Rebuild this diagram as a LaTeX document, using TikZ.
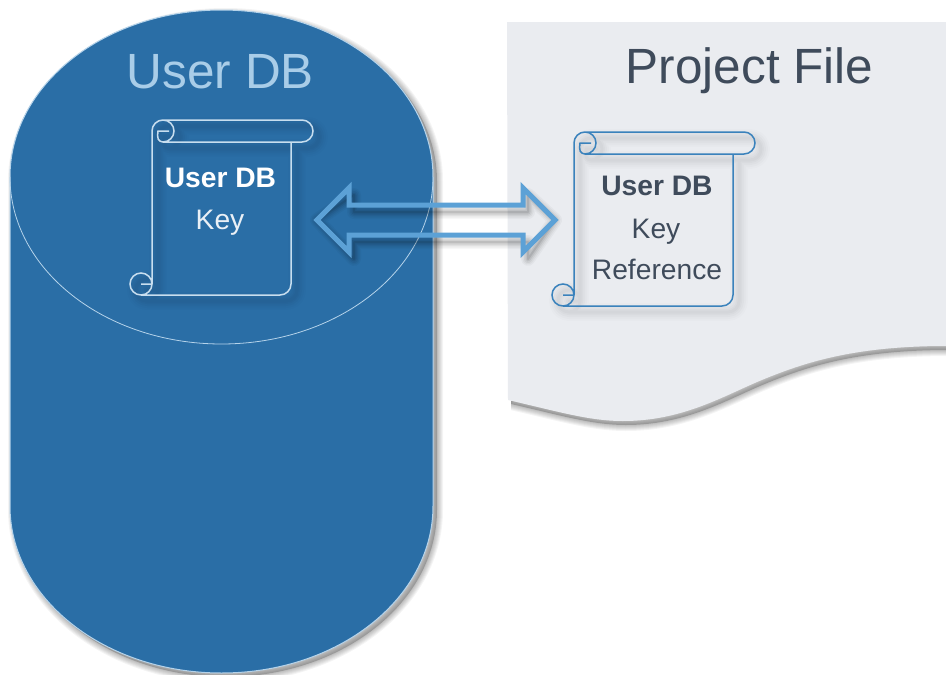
\documentclass[tikz,border=0pt]{standalone}
\usepackage{fontspec}
\setmainfont{Liberation Sans}
\definecolor{cylfill}{HTML}{2A6EA6}
\definecolor{cylline}{HTML}{B5D3EA}
\definecolor{titleblue}{HTML}{A9CDE8}
\definecolor{pagefill}{HTML}{EAECF0}
\definecolor{darktext}{HTML}{3F4B5B}
\definecolor{arrowblue}{HTML}{5CA1D6}
\definecolor{scrollblue}{HTML}{3A82BC}
\definecolor{scrollpale}{HTML}{C8DEEF}
\newcommand{\softstroke}[3]{% offset x, offset y (downward), path
  \foreach \w/\o in {18/.012,14/.015,10/.018,6/.02,3/.02}{
    \path[xshift=#1pt,yshift=-#2pt,draw=black,line width=\w pt,opacity=\o,line join=round,line cap=round] #3;
  }}
\newcommand{\strongstroke}[3]{%
  \foreach \w/\o in {14/.03,11/.04,8/.05,5/.07,2/.09}{
    \path[xshift=#1pt,yshift=-#2pt,draw=black,line width=\w pt,opacity=\o,line join=round,line cap=round] #3;
  }}
\newcommand{\softfill}[3]{%
  \foreach \w in {12,10,8,6,4,2}{
    \path[xshift=#1pt,yshift=-#2pt,draw=black,line width=\w pt,opacity=.045,line join=round] #3;
  }
  \path[xshift=#1pt,yshift=-#2pt,fill=black,opacity=.2] #3;
}
% scroll outline: #1 left, #2 top, #3 roll right, #4 body right, #5 bottom
\newcommand{\scrollpath}[5]{
  (#1-11,#5) -- (#4-11,#5) arc (90:0:11) -- (#4,#2+22)
  (#1,#5-11) -- (#1,#2+11) arc (180:270:11) -- (#3-11,#2) arc (-90:90:11) -- (#1+11,#2+22)
  (#1+11,#2) arc (-90:90:11) arc (90:190:5.5) -- (#1+6,#2+11) -- (#1+17,#2+11)
  (#1-11,#5) arc (90:450:11)
  (#1-11,#5-11) -- (#1,#5-11)
}
\tikzset{
  titletext/.style={font=\fontsize{49.5}{49.5}\selectfont,anchor=base,inner sep=0pt},
  boldtext/.style={font=\fontsize{28.2}{28.2}\selectfont\bfseries,anchor=base,inner sep=0pt},
  bodytext/.style={font=\fontsize{28.2}{28.2}\selectfont,anchor=base,inner sep=0pt},
  blockarrow/.style={draw=arrowblue,line width=5pt,line join=miter},
}
\begin{document}
\begin{tikzpicture}[x=1pt,y=-1pt]
\useasboundingbox (0,0) rectangle (946,675);
\clip (0,0) rectangle (946,675);
\fill[white] (0,0) rectangle (946,675);
% project file page
\def\pagepath{(507,22) -- (946,22) -- (946,346) .. controls (850,346) and (800,364) .. (757,382) .. controls (720,398) and (680,421) .. (623,421) .. controls (590,421) and (560,412) .. (508,400) -- cycle}
\begin{scope}
\clip (511,40) rectangle (946,675);
\softfill{3}{4}{\pagepath}
\end{scope}
\fill[pagefill] \pagepath;
% cylinder
\def\cylpath{(10,177) arc (180:360:211.5 and 167) -- (433,506) arc (0:180:211.5 and 167) -- cycle}
\softfill{4}{4}{\cylpath}
\path[fill=cylfill,draw=cylline,line width=1pt] \cylpath;
\draw[cylline,line width=.8pt] (10,177) arc (180:0:211.5 and 167);
% scroll and arrow shadows
\softstroke{6}{6}{\scrollpath{152}{120}{313}{291}{295}}
\softstroke{6}{6}{\scrollpath{574}{132}{755}{733}{306}}
\coordinate (lefttip) at (317,220);
\coordinate (righttip) at (555,220);
\def\arrowpath{(lefttip) -- (349,188) -- (349,205) -- (523,205) -- (523,188) -- (righttip) -- (523,252) -- (523,235) -- (349,235) -- (349,252) -- cycle}
\strongstroke{5}{7}{\arrowpath}
% scrolls
\draw[scrollpale,line width=1.5pt] \scrollpath{152}{120}{313}{291}{295};
\draw[scrollblue,line width=1.5pt] \scrollpath{574}{132}{755}{733}{306};
% arrow
\draw[blockarrow] \arrowpath;
% labels
\node[titletext,text=titleblue] (dbtitle) at (220.5,88) {User DB};
\node[titletext,text=darktext] (pftitle) at (749.5,83) {Project File};
\node[boldtext,text=white] (keyhead) at (220.5,187) {User DB};
\node[bodytext,text=white!90!cylfill] (keylabel) at (220,229) {Key};
\node[boldtext,text=darktext] (refhead) at (657,195) {User DB};
\node[bodytext,text=darktext] (refkey) at (656,238) {Key};
\node[bodytext,text=darktext] (refref) at (657,279) {Reference};
\end{tikzpicture}
\end{document}
